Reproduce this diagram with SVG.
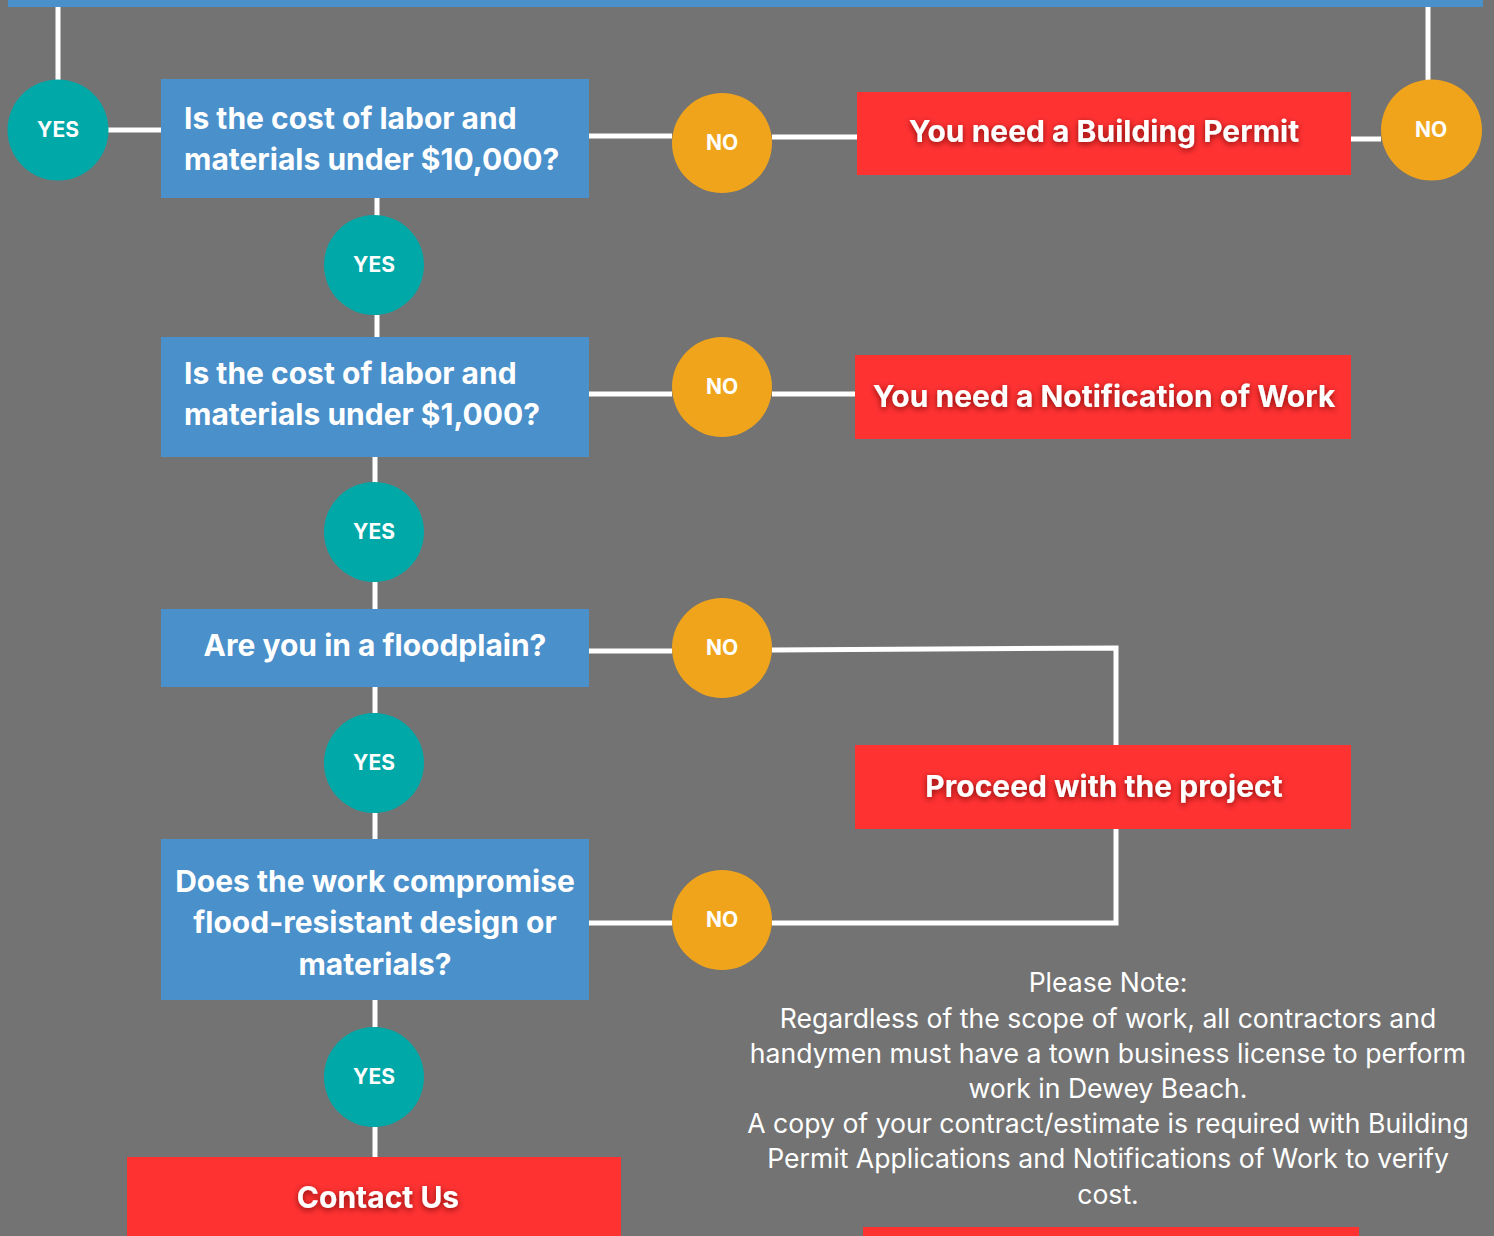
<svg xmlns="http://www.w3.org/2000/svg" width="1494" height="1236" viewBox="0 0 1494 1236">
<defs>
<filter id="sh" x="-10%" y="-40%" width="120%" height="180%">
<feDropShadow dx="0" dy="2" stdDeviation="3" flood-color="#5a0000" flood-opacity="0.75"/>
</filter>
<style>
.q{fill:#4A90CB}
.r{fill:#FF3232}
.yes{fill:#00A8A8}
.no{fill:#F0A41C}
.c{stroke:#fff;stroke-width:5;fill:none}
.qt{font-family:Inter,"Liberation Sans",sans-serif;font-weight:700;font-size:30px;fill:#fff}
.rt{font-family:Inter,"Liberation Sans",sans-serif;font-weight:700;font-size:30px;fill:#fff;text-anchor:middle;filter:url(#sh)}
.lt{font-family:Inter,"Liberation Sans",sans-serif;font-weight:700;font-size:21px;fill:#fff;text-anchor:middle}
.nt{font-family:Inter,"Liberation Sans",sans-serif;font-size:26.6px;fill:#fff;text-anchor:middle}
</style>
</defs>
<rect width="1494" height="1236" fill="#737373"/>
<rect id="topbar" x="8" y="0" width="1475" height="7" class="q"/>
<g id="connectors" class="c">
<path d="M58 7V80"/>
<path d="M1428 7V80"/>
<path d="M108 130H161"/>
<path d="M589 136H672"/>
<path d="M772 137H857"/>
<path d="M1351 139H1381"/>
<path d="M377 198V216"/>
<path d="M377 315V337"/>
<path d="M589 394H672"/>
<path d="M772 394H855"/>
<path d="M375 457V483"/>
<path d="M375 582V609"/>
<path d="M589 651H672"/>
<path d="M772 650L1116 648V745"/>
<path d="M375 687V713"/>
<path d="M375 813V839"/>
<path d="M1116 829V923H772"/>
<path d="M589 923H672"/>
<path d="M375 1000V1027"/>
<path d="M375 1127V1157"/>
</g>
<g id="yes0"><circle cx="58" cy="130" r="50.5" class="yes"/><text x="58" y="137" class="lt">YES</text></g>
<g id="q1"><rect x="161" y="79" width="428" height="119" class="q"/><text class="qt"><tspan x="184" y="129">Is the cost of labor and</tspan><tspan x="184" y="170">materials under $10,000?</tspan></text></g>
<g id="no1"><circle cx="722" cy="143" r="50" class="no"/><text x="722" y="150" class="lt">NO</text></g>
<g id="bp"><rect x="857" y="92" width="494" height="83" class="r"/><text x="1104" y="142" class="rt">You need a Building Permit</text></g>
<g id="no0"><circle cx="1431.5" cy="130" r="50.5" class="no"/><text x="1431" y="137" class="lt">NO</text></g>
<g id="yes1"><circle cx="374" cy="265" r="50" class="yes"/><text x="374" y="272" class="lt">YES</text></g>
<g id="q2"><rect x="161" y="337" width="428" height="120" class="q"/><text class="qt"><tspan x="184" y="384">Is the cost of labor and</tspan><tspan x="184" y="425">materials under $1,000?</tspan></text></g>
<g id="no2"><circle cx="722" cy="387" r="50" class="no"/><text x="722" y="394" class="lt">NO</text></g>
<g id="nw"><rect x="855" y="355" width="496" height="84" class="r"/><text x="1104" y="407" class="rt">You need a Notification of Work</text></g>
<g id="yes2"><circle cx="374" cy="532" r="50" class="yes"/><text x="374" y="539" class="lt">YES</text></g>
<g id="q3"><rect x="161" y="609" width="428" height="78" class="q"/><text x="375" y="656" class="qt" text-anchor="middle">Are you in a floodplain?</text></g>
<g id="no3"><circle cx="722" cy="648" r="50" class="no"/><text x="722" y="655" class="lt">NO</text></g>
<g id="yes3"><circle cx="374" cy="763" r="50" class="yes"/><text x="374" y="770" class="lt">YES</text></g>
<g id="proceed"><rect x="855" y="745" width="496" height="84" class="r"/><text x="1104" y="797" class="rt">Proceed with the project</text></g>
<g id="q4"><rect x="161" y="839" width="428" height="161" class="q"/><text class="qt" text-anchor="middle"><tspan x="375" y="892">Does the work compromise</tspan><tspan x="375" y="933">flood-resistant design or</tspan><tspan x="375" y="975">materials?</tspan></text></g>
<g id="no4"><circle cx="722" cy="920" r="50" class="no"/><text x="722" y="927" class="lt">NO</text></g>
<g id="yes4"><circle cx="374" cy="1077" r="50" class="yes"/><text x="374" y="1084" class="lt">YES</text></g>
<g id="contact"><rect x="127" y="1157" width="494" height="79" class="r"/><text x="378" y="1208" class="rt">Contact Us</text></g>
<g id="note"><text class="nt"><tspan x="1108" y="992">Please Note:</tspan><tspan x="1108" y="1028">Regardless of the scope of work, all contractors and</tspan><tspan x="1108" y="1063">handymen must have a town business license to perform</tspan><tspan x="1108" y="1098">work in Dewey Beach.</tspan><tspan x="1108" y="1133">A copy of your contract/estimate is required with Building</tspan><tspan x="1108" y="1168">Permit Applications and Notifications of Work to verify</tspan><tspan x="1108" y="1204">cost.</tspan></text></g>
<rect id="bottombar" x="863" y="1227" width="496" height="9" class="r"/>
</svg>
